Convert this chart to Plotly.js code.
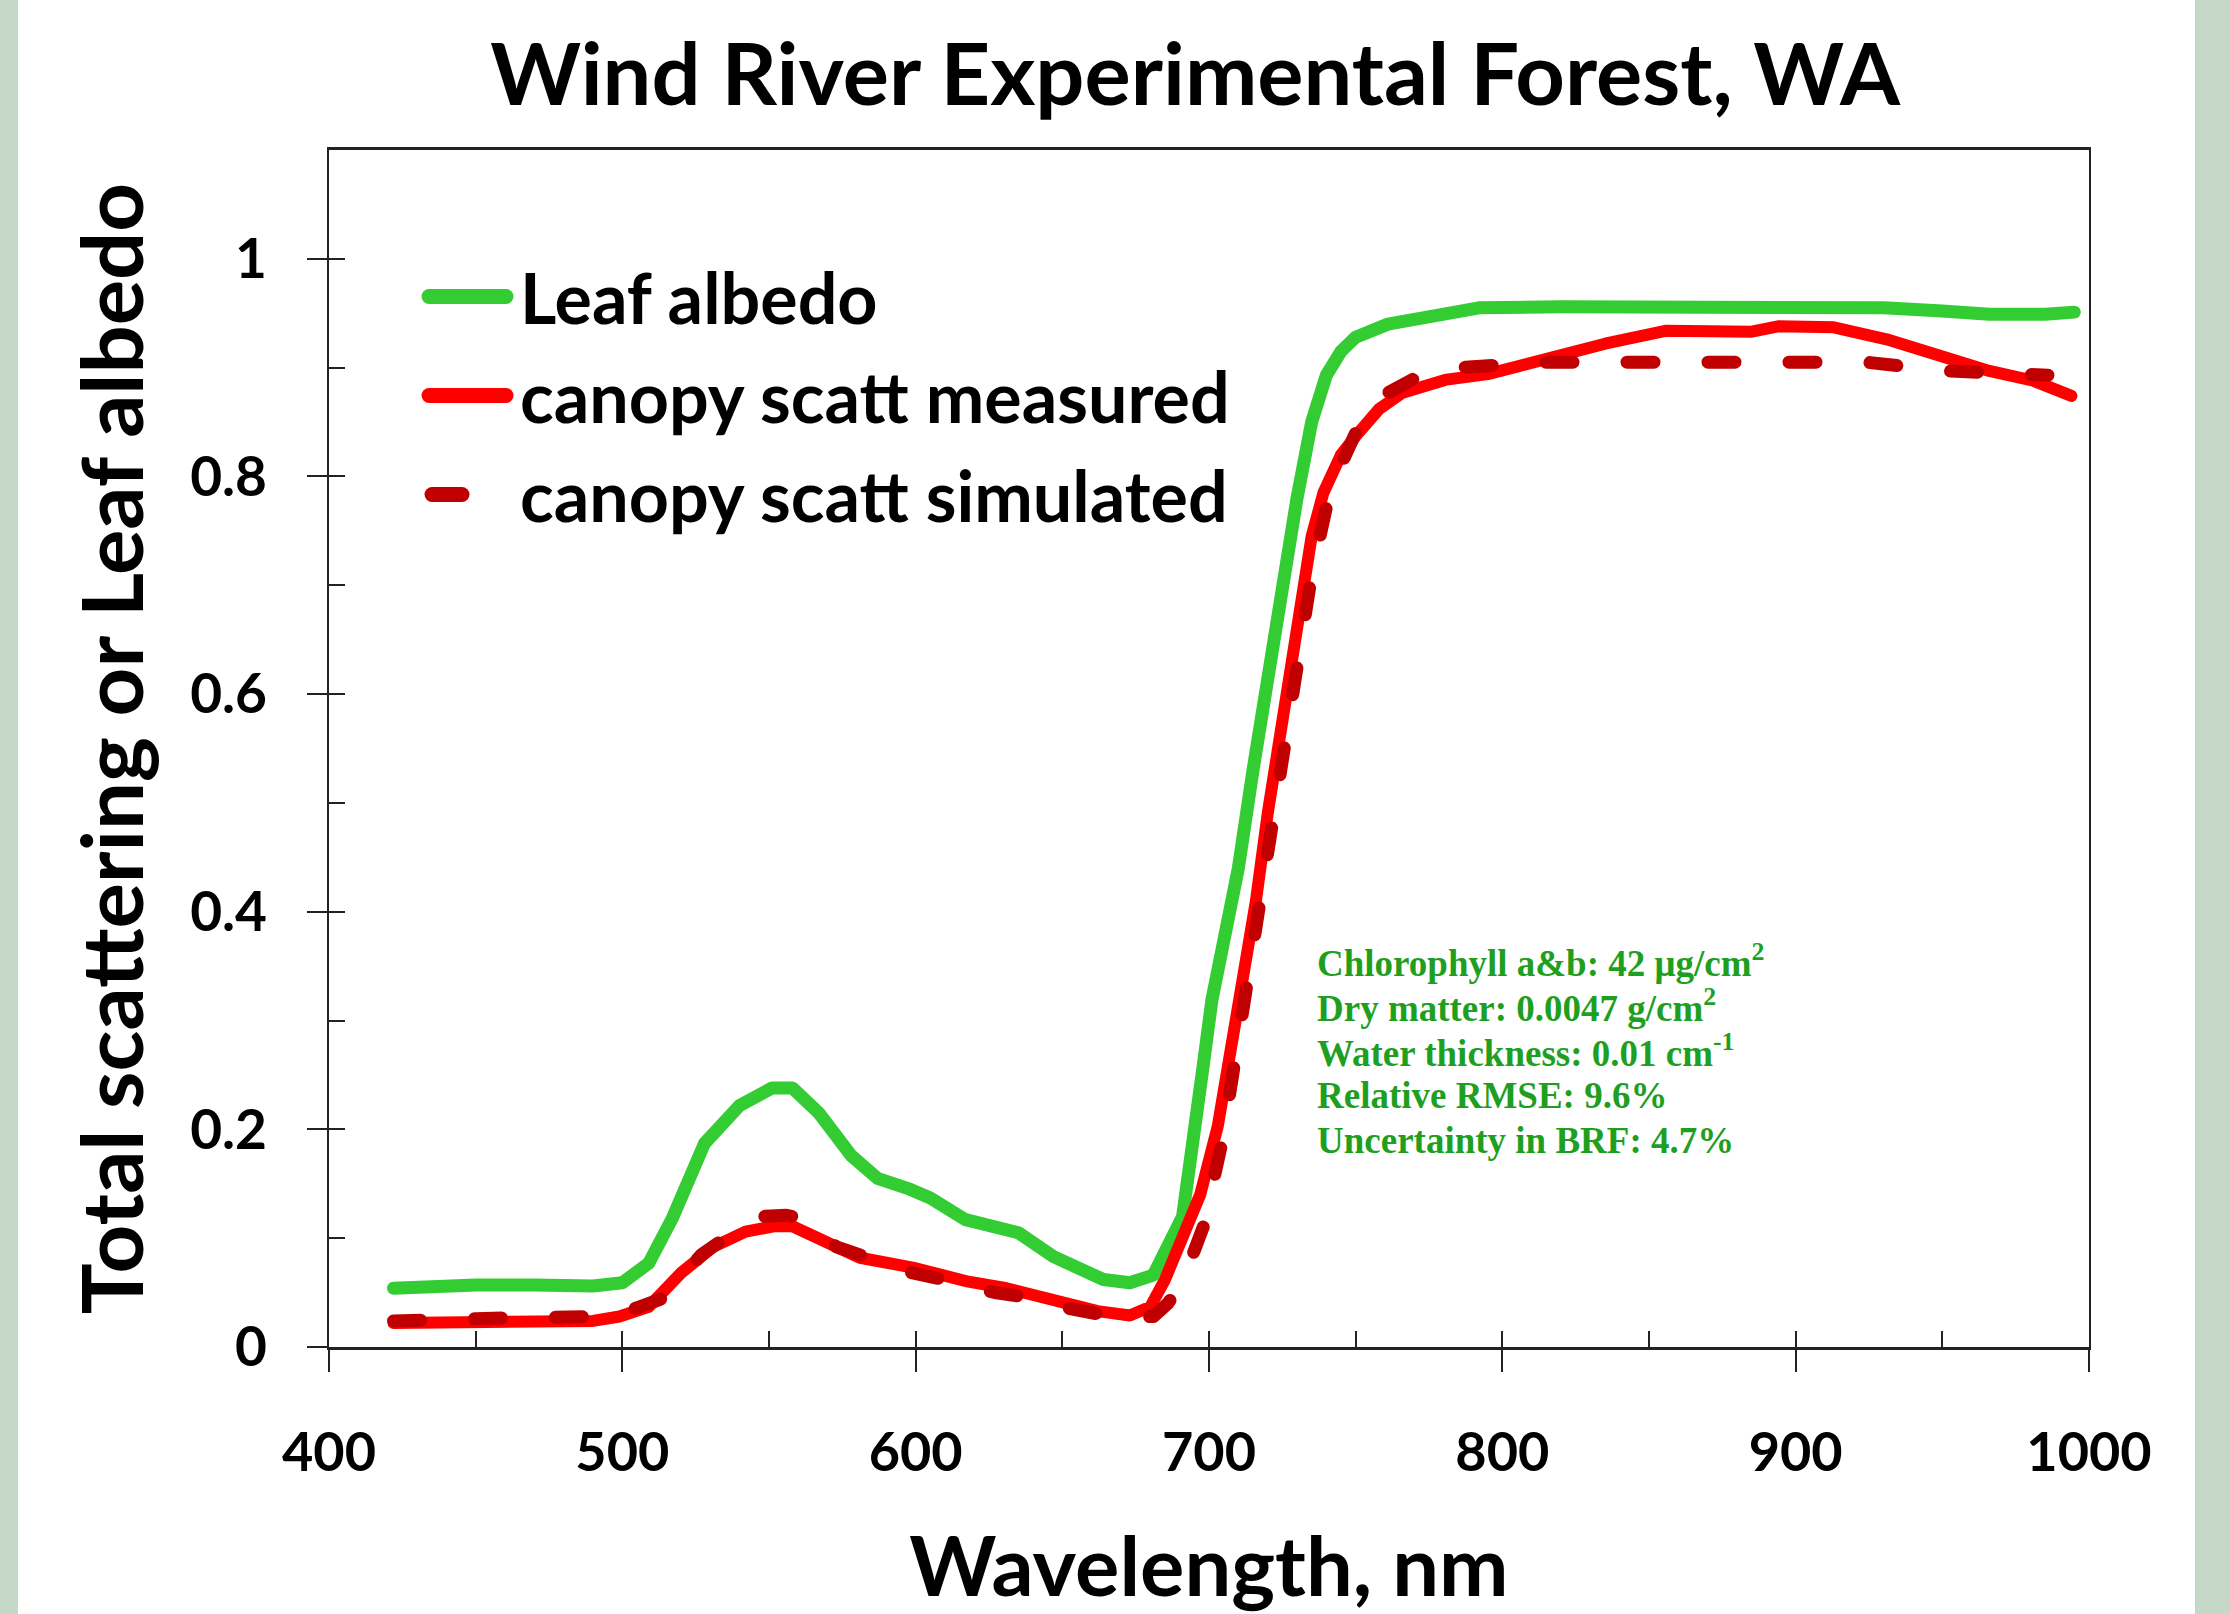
<!DOCTYPE html>
<html>
<head>
<meta charset="utf-8">
<script src="https://cdn.plot.ly/plotly-3.0.1.min.js"></script>
<style>
  html, body { margin: 0; padding: 0; background: #c6d9c8; width: 2230px; height: 1614px; overflow: hidden; }
  #chart { position: absolute; left: 18px; top: 0; width: 2177px; height: 1614px; background: #ffffff; }
  #chart .scatterlayer .js-line { stroke-linecap: round; stroke-linejoin: round; }
</style>
</head>
<body>
<div id="chart"></div>
<script>
// Wavelength (nm) and values
const wlLeaf = [422,430,450,470,490,500,509,517,528,540,551,558,567,578,587,598,605,617,627,635,647,664,673,681,691,695,698,701,705,710,715,720,725,730,735,740,745,750,761,775,792,820,860,900,930,950,966,985,995];
const leafAlbedo = [0.054,0.055,0.057,0.057,0.056,0.059,0.077,0.118,0.187,0.222,0.238,0.238,0.215,0.176,0.155,0.145,0.137,0.117,0.109,0.105,0.083,0.062,0.059,0.066,0.120,0.190,0.258,0.319,0.370,0.440,0.530,0.620,0.700,0.780,0.850,0.893,0.915,0.928,0.940,0.948,0.955,0.956,0.956,0.956,0.955,0.952,0.949,0.949,0.951];

const wlMeas = [422,440,455,470,490,499,509,520,531,542,552,558,570,581,599,618,631,647,662,673,680,685,690,697,703,708,713,716,720,725,730,735,739,745,750,758,766,781,795,806,823,835,856,875,885,894,913,931,948,966,981,994];
const canopyMeasured = [0.022,0.022,0.022,0.023,0.024,0.028,0.037,0.068,0.092,0.106,0.111,0.111,0.095,0.082,0.073,0.060,0.054,0.042,0.033,0.029,0.037,0.062,0.092,0.140,0.203,0.282,0.350,0.410,0.490,0.580,0.670,0.745,0.785,0.820,0.837,0.862,0.877,0.889,0.894,0.902,0.914,0.922,0.934,0.933,0.933,0.938,0.937,0.926,0.911,0.897,0.888,0.874];

const wlSim = [422,433,450,465,480,495,505,514,527,535,548,556,562,573,587,599,613,627,640,653,667,676,681,686,691,698,704.5,709,713.6,720,725,730,735,741.5,750,759,770,785,813,841,870,900,924,951,978,986];
const canopySimulated = [0.024,0.024,0.026,0.027,0.027,0.028,0.036,0.045,0.085,0.100,0.120,0.121,0.118,0.092,0.079,0.068,0.060,0.050,0.045,0.035,0.028,0.027,0.028,0.040,0.060,0.110,0.189,0.266,0.342,0.450,0.540,0.630,0.710,0.790,0.840,0.874,0.890,0.900,0.905,0.905,0.905,0.905,0.905,0.897,0.894,0.893];

const seriesNames = ['Leaf albedo', 'canopy scatt measured', 'canopy scatt simulated'];
const titleText = 'Wind River Experimental Forest, WA';
const xTitle = 'Wavelength, nm';
const yTitle = 'Total scattering or Leaf albedo';
const noteLines = [
  'Chlorophyll a&amp;b: 42 μg/cm<sup>2</sup>',
  'Dry matter: 0.0047 g/cm<sup>2</sup>',
  'Water thickness: 0.01 cm<sup>-1</sup>',
  'Relative RMSE: 9.6%',
  'Uncertainty in BRF: 4.7%'
];

const FONT = 'Lato, "Open Sans", "DejaVu Sans", sans-serif';
const NOTE_FONT = { family: '"Liberation Serif", "Times New Roman", serif', size: 37, weight: 700, color: '#1f9f1f' };

const traces = [
  { x: wlLeaf, y: leafAlbedo, name: seriesNames[0], mode: 'lines', legendgroup: 'g1',
    line: { color: '#33cc33', width: 13 }, xaxis: 'x', yaxis: 'y' },
  { x: wlMeas, y: canopyMeasured, name: seriesNames[1], mode: 'lines', legendgroup: 'g2',
    line: { color: '#ff0000', width: 12 }, xaxis: 'x', yaxis: 'y' },
  { x: wlSim, y: canopySimulated, name: seriesNames[2], mode: 'lines', legendgroup: 'g3',
    line: { color: '#c00000', width: 13, dash: '27px,54px' }, xaxis: 'x', yaxis: 'y' },
  // invisible helper so the inner-tick axes are drawn
  { x: wlLeaf, y: leafAlbedo, mode: 'lines', showlegend: false, hoverinfo: 'skip',
    line: { color: 'rgba(0,0,0,0)', width: 0 }, xaxis: 'x2', yaxis: 'y2' }
];

// annotation lines, stacked from the first line downward
const noteTop = 0.355, noteStep = 0.0412;
const annotations = noteLines.map((t, i) => ({
  text: t, xref: 'x', yref: 'y', x: 736, y: noteTop - i * noteStep,
  xanchor: 'left', yanchor: 'middle', align: 'left', showarrow: false,
  font: NOTE_FONT
}));

const layout = {
  width: 2177, height: 1614,
  margin: { l: 311, r: 106, t: 150, b: 267 },
  paper_bgcolor: '#ffffff', plot_bgcolor: '#ffffff',
  font: { family: FONT, color: '#000000' },
  showlegend: true,
  title: {
    text: titleText, xref: 'container', yref: 'container',
    x: 0.5407, xanchor: 'center', y: 0.954, yanchor: 'middle',
    font: { family: FONT, size: 86.5, weight: 700, color: '#000000' }
  },
  xaxis: {
    range: [400, 1000], dtick: 100, tick0: 400,
    ticks: 'outside', ticklen: 22, tickwidth: 2, tickcolor: '#222',
    showline: true, linewidth: 3, linecolor: '#222', mirror: true,
    showgrid: false, zeroline: false,
    tickfont: { family: FONT, size: 54, weight: 700, color: '#000' },
    ticklabelstandoff: 34,
    title: { text: xTitle, standoff: 75, font: { family: FONT, size: 83, weight: 700, color: '#000' } }
  },
  yaxis: {
    range: [0, 1.1], dtick: 0.2, tick0: 0,
    ticks: 'outside', ticklen: 20, tickwidth: 2, tickcolor: '#222',
    showline: true, linewidth: 2, linecolor: '#222', mirror: true,
    showgrid: false, zeroline: false,
    tickfont: { family: FONT, size: 55, weight: 700, color: '#000' },
    ticklabelstandoff: 29,
    title: { text: yTitle, standoff: 18, font: { family: FONT, size: 85, weight: 700, color: '#000' } }
  },
  xaxis2: {
    overlaying: 'x', anchor: 'y2', side: 'bottom',
    range: [400, 1000], dtick: 50, tick0: 400,
    ticks: 'inside', ticklen: 16, tickwidth: 2, tickcolor: '#222',
    showticklabels: false, showline: false, showgrid: false, zeroline: false
  },
  yaxis2: {
    overlaying: 'y', anchor: 'x2', side: 'left',
    range: [0, 1.1], dtick: 0.1, tick0: 0,
    ticks: 'inside', ticklen: 16, tickwidth: 2, tickcolor: '#222',
    showticklabels: false, showline: false, showgrid: false, zeroline: false
  },
  legend: {
    x: 0.0858, xanchor: 'left', y: 0.921, yanchor: 'top',
    bgcolor: 'rgba(0,0,0,0)', borderwidth: 0,
    traceorder: 'grouped', tracegroupgap: 5,
    font: { family: FONT, size: 70, weight: 700, color: '#000' }
  },
  annotations: annotations
};

Plotly.newPlot('chart', traces, layout, { displayModeBar: false, staticPlot: true }).then(function (gd) {
  // longer, thicker legend keys like the reference
  gd.querySelectorAll('.legend [clip-path]').forEach(function (el) { el.removeAttribute('clip-path'); });
  const keyPaths = ['M-51,0h77', 'M-51,0h77', 'M-48,0h30'];
  gd.querySelectorAll('.legend .traces').forEach(function (tr, i) {
    tr.querySelectorAll('.legendlines path').forEach(function (p) {
      p.setAttribute('d', keyPaths[i] || keyPaths[0]);
      p.style.strokeWidth = '15px';
      p.style.strokeLinecap = 'round';
      p.style.strokeDasharray = 'none';
    });
  });
});
</script>
</body>
</html>
